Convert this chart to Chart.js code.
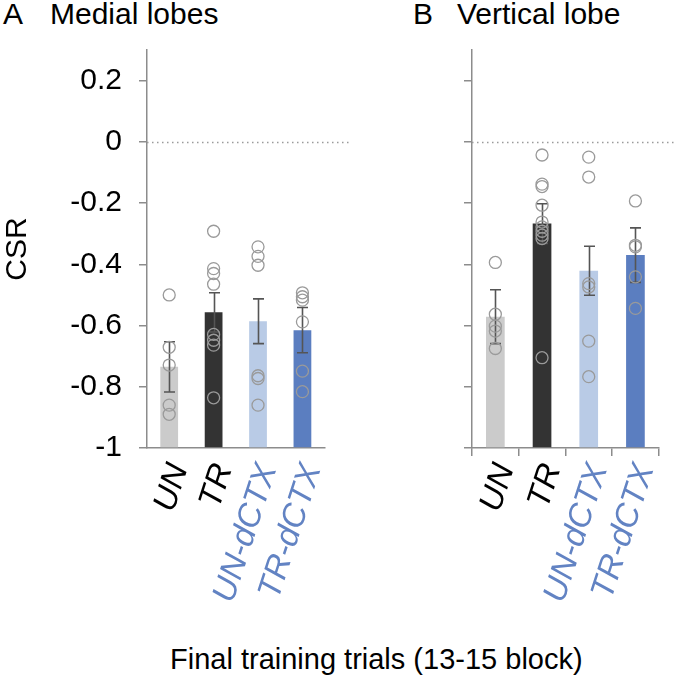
<!DOCTYPE html>
<html>
<head>
<meta charset="utf-8">
<script src="https://cdn.jsdelivr.net/npm/chart.js@4.4.1/dist/chart.umd.min.js"></script>
<style>
  html, body { margin: 0; padding: 0; background: #fff; }
  #wrap { position: relative; width: 677px; height: 681px; overflow: hidden; font-family: 'Liberation Sans', Arial, sans-serif; }
  canvas { position: absolute; top: 0; }
  .ttl { position: absolute; top: -1px; font-size: 30px; line-height: 30px; color: #000; white-space: pre; }
  #xTitle { position: absolute; top: 644px; left: 170px; font-size: 29px; line-height: 30px; color: #000; white-space: pre; }
</style>
</head>
<body>
<div id="wrap">
  <div class="ttl" style="left:3px">A</div>
  <div class="ttl" style="left:50px">Medial lobes</div>
  <div class="ttl" style="left:413px">B</div>
  <div class="ttl" style="left:457px">Vertical lobe</div>
  <canvas id="medial" width="352" height="640" style="left:0"></canvas>
  <canvas id="vertical" width="317" height="640" style="left:360px"></canvas>
  <div id="xTitle">Final training trials (13-15 block)</div>
</div>
<script>
// groups and colours
const groups = ['UN', 'TR', 'UN-dCTX', 'TR-dCTX'];
const barColors = ['#cbcbcb', '#333333', '#b9cbe6', '#5b7ec0'];
const labelColors = ['#000000', '#000000', '#6283c3', '#6283c3'];

// y axis
const yMin = -1;
const yMax = 0.3;
const yStep = 0.2;

// A  Medial lobes
const medialMean = [-0.735, -0.557, -0.586, -0.615];
const medialSem = [0.082, 0.064, 0.073, 0.074];
const medialUN = [-0.50, -0.671, -0.729, -0.86, -0.89];
const medialTR = [-0.292, -0.414, -0.430, -0.465, -0.629, -0.648, -0.664, -0.836];
const medialUNd = [-0.343, -0.374, -0.403, -0.764, -0.773, -0.860];
const medialTRd = [-0.493, -0.506, -0.517, -0.588, -0.749, -0.816];

// B  Vertical lobe
const verticalMean = [-0.571, -0.267, -0.421, -0.370];
const verticalSem = [0.088, 0.065, 0.080, 0.089];
const verticalUN = [-0.394, -0.563, -0.602, -0.618, -0.675];
const verticalTR = [-0.043, -0.138, -0.146, -0.207, -0.262, -0.278, -0.292, -0.305, -0.316, -0.705];
const verticalUNd = [-0.050, -0.115, -0.463, -0.474, -0.651, -0.767];
const verticalTRd = [-0.193, -0.338, -0.343, -0.441, -0.544];

const FONT = "'Liberation Sans', Arial, sans-serif";
const AXIS = '#8c8c8c';

function toPoints(lists) {
    const pts = [];
    lists.forEach((vals, i) => {
        vals.forEach(v => pts.push({ x: groups[i], y: v }));
    });
    return pts;
}

// dotted zero line, drawn under the bars
const zeroLine = {
    id: 'zeroLine',
    beforeDatasetsDraw(chart) {
        const ctx = chart.ctx;
        const y = Math.round(chart.scales.y.getPixelForValue(0)) + 0.5;
        ctx.save();
        ctx.strokeStyle = '#9a9a9a';
        ctx.lineWidth = 1.3;
        ctx.setLineDash([1.5, 3.5]);
        ctx.beginPath();
        ctx.moveTo(chart.chartArea.left, y);
        ctx.lineTo(chart.width, y);
        ctx.stroke();
        ctx.restore();
    }
};

// mean +- sem, drawn right after the bars
const errorBars = {
    id: 'errorBars',
    afterDatasetDraw(chart, args, opts) {
        if (args.meta.type !== 'bar') return;
        const ctx = chart.ctx;
        const xs = chart.scales.x, ys = chart.scales.y;
        ctx.save();
        ctx.strokeStyle = '#555555';
        ctx.lineWidth = 1.6;
        opts.mean.forEach((m, i) => {
            const x = Math.round(xs.getPixelForValue(i)) + 0.5;
            const top = ys.getPixelForValue(m + opts.sem[i]);
            const bot = ys.getPixelForValue(m - opts.sem[i]);
            ctx.beginPath();
            ctx.moveTo(x, top); ctx.lineTo(x, bot);
            ctx.moveTo(x - 5.5, top); ctx.lineTo(x + 5.5, top);
            ctx.moveTo(x - 5.5, bot); ctx.lineTo(x + 5.5, bot);
            ctx.stroke();
        });
        ctx.restore();
    }
};

function makeChart(id, mean, sem, lists, first) {
    return new Chart(document.getElementById(id), {
        type: 'bar',
        data: {
            labels: groups,
            datasets: [
                {
                    type: 'bar',
                    data: mean,
                    base: yMin,
                    backgroundColor: barColors,
                    borderWidth: 0,
                    categoryPercentage: 1,
                    barPercentage: 0.4,
                    order: 3
                },
                {
                    type: 'line',
                    data: toPoints(lists),
                    showLine: false,
                    pointStyle: 'circle',
                    pointRadius: 6,
                    pointBorderWidth: 1.3,
                    pointBorderColor: '#9a9a9a',
                    pointBackgroundColor: 'rgba(0,0,0,0)',
                    order: 1
                }
            ]
        },
        options: {
            responsive: false,
            animation: false,
            events: [],
            layout: { padding: { top: 50, right: 5, left: 0, bottom: 0 } },
            plugins: {
                legend: { display: false },
                tooltip: { enabled: false },
                errorBars: { mean: mean, sem: sem }
            },
            scales: {
                x: {
                    type: 'category',
                    offset: true,
                    border: { display: true, color: AXIS, width: 1.5 },
                    grid: {
                        offset: true,
                        drawOnChartArea: false,
                        drawTicks: !first,
                        tickLength: 8,
                        color: AXIS,
                        lineWidth: 1.5
                    },
                    ticks: {
                        minRotation: 72,
                        maxRotation: 72,
                        autoSkip: false,
                        labelOffset: 10,
                        padding: first ? 11 : 3,
                        font: { family: FONT, size: 33, style: 'italic' },
                        color: ctx => labelColors[ctx.index]
                    },
                    afterFit: s => { s.height = 192; }
                },
                y: {
                    min: yMin,
                    max: yMax,
                    border: { display: true, color: AXIS, width: 1.5 },
                    grid: {
                        drawOnChartArea: false,
                        drawTicks: true,
                        tickLength: 8,
                        color: AXIS,
                        lineWidth: 1.5
                    },
                    ticks: {
                        stepSize: yStep,
                        includeBounds: false,
                        padding: 17,
                        font: { family: FONT, size: 30 },
                        color: first ? '#000' : 'rgba(0,0,0,0)',
                        callback: v => String(Math.round(v * 10) / 10)
                    },
                    title: {
                        display: first,
                        text: 'CSR',
                        font: { family: FONT, size: 30 },
                        color: '#000',
                        padding: { top: 0, bottom: 0 }
                    },
                    afterFit: s => { s.width = first ? 147 : 112; }
                }
            }
        },
        plugins: [zeroLine, errorBars]
    });
}

makeChart('medial', medialMean, medialSem, [medialUN, medialTR, medialUNd, medialTRd], true);
makeChart('vertical', verticalMean, verticalSem, [verticalUN, verticalTR, verticalUNd, verticalTRd], false);
</script>
</body>
</html>
